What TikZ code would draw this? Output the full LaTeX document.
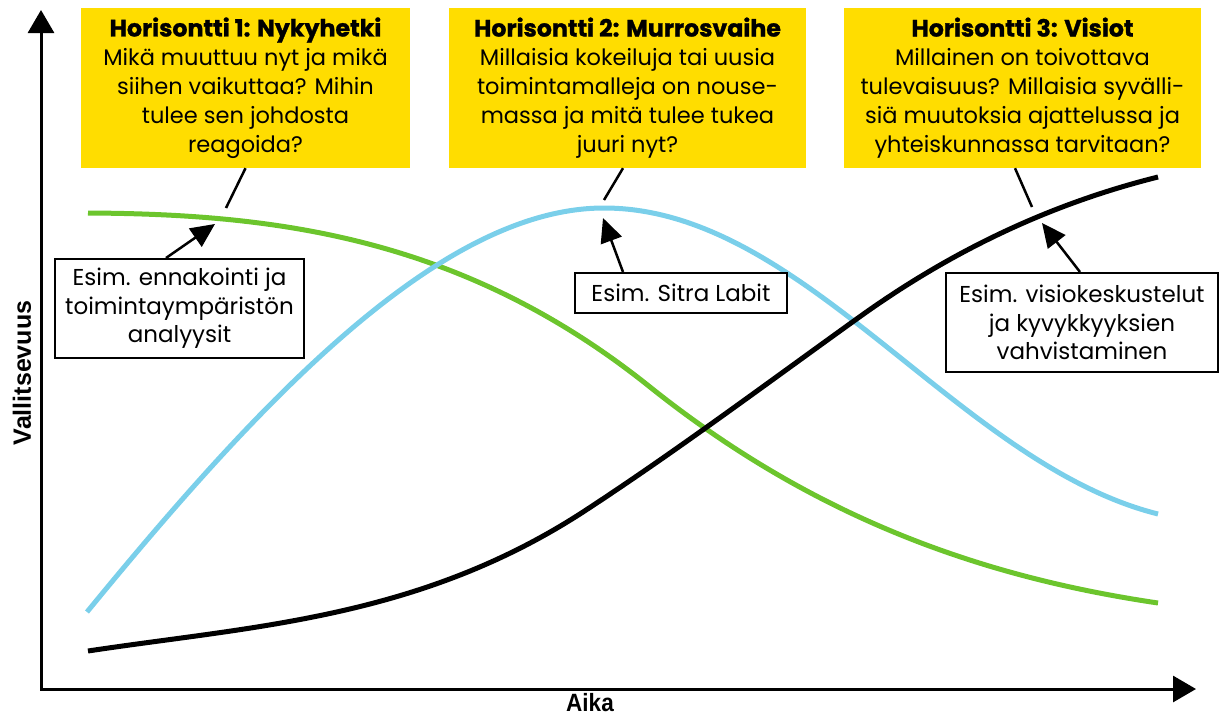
\documentclass[tikz,border=0pt]{standalone}
\usepackage{fontspec}
\setmainfont{Poppins}
\newfontfamily\headfont{Poppins}[BoldFeatures={FakeBold=1.2}]
\newfontfamily\axisfont{Liberation Sans}
\usetikzlibrary{arrows.meta}
\definecolor{hyellow}{HTML}{FFDD00}
\definecolor{cgreen}{HTML}{6CC52D}
\definecolor{cblue}{HTML}{7ACFEA}

\begin{document}
\begin{tikzpicture}[x=1pt,y=-1pt,
  horizon/.style={fill=hyellow, align=center, minimum height=160pt, inner sep=0pt,
    font=\fontsize{22.5}{29}\selectfont},
  example/.style={draw=black, line width=2pt, fill=white, align=center, inner sep=0pt,
    font=\fontsize{23}{28.5}\selectfont},
  axis/.style={line width=3pt, {Triangle[length=23pt,width=26pt]}-{Triangle[length=23pt,width=26pt]}},
  axislabel/.style={font=\axisfont\bfseries\fontsize{25}{27}\selectfont},
  pointer/.style={line width=2.5pt},
  pointarrow/.style={line width=2.5pt, -{Triangle[length=24pt,width=22pt]}},
  trend/.style={line width=5pt}]

\newcommand\headline[1]{{\headfont\bfseries\fontsize{23.7}{29}\selectfont #1}}

\useasboundingbox (0,0) rectangle (1222,715);

% axes
\coordinate (ytop) at (41,10);
\coordinate (origin) at (41,689);
\coordinate (xend) at (1196,689);
\draw[axis] (ytop) -- (origin) -- (xend);
\node[axislabel, inner sep=0pt] (xlab) at (590,703) {\scalebox{0.9}[1]{Aika}};
\node[axislabel, rotate=90] (ylab) at (22,373) {Vallitsevuus};

% trend curves
\draw[trend, cgreen] (88,213) .. controls (275,214) and (463,237) .. (650,387)
  .. controls (819,522) and (989,578) .. (1158,603);
\draw[trend, cblue] (87,612) .. controls (259,402) and (440,208) .. (604,208)
  .. controls (804,208) and (958,464) .. (1158,514);
\draw[trend, black] (88,651) .. controls (253,626) and (418,619) .. (583,512)
  .. controls (675,452) and (766,384) .. (858,318)
  .. controls (958,246) and (1058,202) .. (1158,177);

% horizon boxes
\node[horizon, minimum width=329pt] (h1) at (245.5,88) {%
  \headline{Horisontti 1: Nykyhetki}\\
  Mikä muuttuu nyt ja mikä\\ siihen vaikuttaa? Mihin\\ tulee sen johdosta\\ reagoida?};
\node[horizon, minimum width=357pt] (h2) at (627.5,88) {%
  \headline{Horisontti 2: Murrosvaihe}\\
  Millaisia kokeiluja tai uusia\\ toimintamalleja on nouse-\\ massa ja mitä tulee tukea\\ juuri nyt?};
\node[horizon, minimum width=357pt] (h3) at (1022.5,88) {%
  \headline{Horisontti 3: Visiot}\\
  Millainen on toivottava\\ tulevaisuus? Millaisia syvälli-\\ siä muutoksia ajattelussa ja\\ yhteiskunnassa tarvitaan?};

% example boxes
\node[example, minimum width=249pt, minimum height=99pt] (e1) at (179.5,308.5)
  {Esim. ennakointi ja\\ toimintaympäristön\\ analyysit};
\node[example, minimum width=212pt, minimum height=40pt] (e2) at (681,293)
  {Esim. Sitra Labit};
\node[example, minimum width=272pt, minimum height=99pt] (e3) at (1082,322.5)
  {Esim. visiokeskustelut\\ ja kyvykkyyksien\\ vahvistaminen};

% pointer ends on the curves
\coordinate (p1) at (226,208);
\coordinate (p2) at (604,200);
\coordinate (p3) at (1032,207);
\coordinate (q1) at (215,224);
\coordinate (q2) at (603,218);
\coordinate (q3) at (1042,223);

\draw[pointer] (h1.south) -- (p1);
\draw[pointer] ([xshift=-4.5pt]h2.south) -- (p2);
\draw[pointer] ([xshift=-7.5pt]h3.south) -- (p3);
\draw[pointarrow] ([xshift=-13.5pt]e1.north) -- (q1);
\draw[pointarrow] ([xshift=-58pt]e2.north) -- (q2);
\draw[pointarrow] ([xshift=-2pt]e3.north) -- (q3);
\end{tikzpicture}
\end{document}
